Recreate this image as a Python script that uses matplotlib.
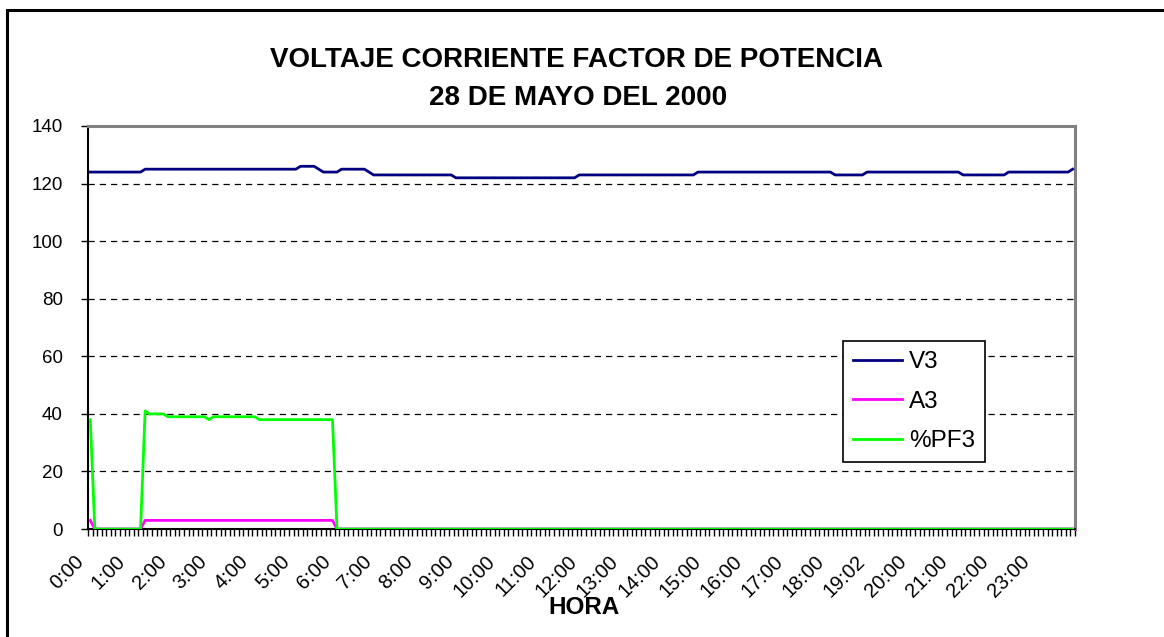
import matplotlib.pyplot as plt
from matplotlib.patches import Rectangle
from matplotlib.transforms import ScaledTranslation

plt.rcParams['font.family'] = ['Liberation Sans', 'DejaVu Sans']

# readings every ~6.7 min over the day (216 samples)
v3 = ([124] * 12 + [125] * 34 + [126] * 4 + [125] + [124] * 4 + [125] * 6 + [124]
      + [123] * 18 + [122] * 27 + [123] * 26 + [124] * 30 + [123] * 7 + [124] * 21
      + [123] * 10 + [124] * 14 + [125])
a3 = [3] + [0] * 11 + [3] * 42 + [0] * 162
pf3 = ([38] + [0] * 11 + [41] + [40] * 4 + [39] * 9 + [38] + [39] * 10 + [38] * 17
       + [0] * 162)

hour_labels = ['0:00', '1:00', '2:00', '3:00', '4:00', '5:00', '6:00', '7:00',
               '8:00', '9:00', '10:00', '11:00', '12:00', '13:00', '14:00', '15:00',
               '16:00', '17:00', '18:00', '19:02', '20:00', '21:00', '22:00', '23:00']
label_step = 9

x = list(range(len(v3)))

fig = plt.figure(figsize=(11.64, 6.37), dpi=100)
ax = fig.add_axes([0.0756, 0.1695, 0.8479, 0.6327])

# chart area frame
fig.patches.append(Rectangle((7 / 1164, -0.1), 1.2, 1.1 - 10 / 637,
                             transform=fig.transFigure, fill=False,
                             edgecolor='black', linewidth=2.2))

for v in range(20, 140, 20):
    ax.axhline(v, color='black', linestyle=(0, (5, 4)), linewidth=0.9, zorder=1)

ax.plot(x, v3, color='#000080', linewidth=2.0, label='V3', zorder=3)
ax.plot(x, a3, color='#FF00FF', linewidth=2.0, label='A3', zorder=3)
ax.plot(x, pf3, color='#00FF00', linewidth=2.0, label='%PF3', zorder=3)

ax.set_xlim(-0.5, len(v3) - 0.5)
ax.set_ylim(0, 140)
ax.set_yticks(range(0, 141, 20))
ax.tick_params(axis='y', labelsize=13.5, length=5, width=1, direction='out', pad=13)

ax.set_xticks([i * label_step for i in range(len(hour_labels))])
ax.set_xticklabels(hour_labels, rotation=45, ha='right', va='top',
                   rotation_mode='anchor', fontsize=14.5)
ax.tick_params(axis='x', which='major', length=0, pad=0)
shift = ScaledTranslation(-16 / 100, -23 / 100, fig.dpi_scale_trans)
for lab in ax.get_xticklabels():
    lab.set_transform(lab.get_transform() + shift)
ax.set_xticks([i - 0.5 for i in range(len(v3) + 1)], minor=True)
ax.tick_params(axis='x', which='minor', length=5, width=1, direction='out')

ax.spines['left'].set_color('black')
ax.spines['bottom'].set_color('black')
ax.spines['left'].set_linewidth(1.5)
ax.spines['bottom'].set_linewidth(1.5)
for s in ('top', 'right'):
    ax.spines[s].set_color('#808080')
    ax.spines[s].set_linewidth(2.2)

fig.text(576 / 1164, 1 - 60 / 637, 'VOLTAJE CORRIENTE FACTOR DE POTENCIA',
         ha='center', va='center', fontsize=20, fontweight='bold')
fig.text(578 / 1164, 1 - 98 / 637, '28 DE MAYO DEL 2000', ha='center',
         va='center', fontsize=20, fontweight='bold')
fig.text(584 / 1164, 1 - 607 / 637, 'HORA', ha='center', va='center',
         fontsize=17.5, fontweight='bold')

leg = ax.legend(loc='upper left', bbox_to_anchor=(843 / 1164, 1 - 341 / 637),
                bbox_transform=fig.transFigure, borderaxespad=0, fontsize=17.5,
                frameon=True, fancybox=False, edgecolor='black', framealpha=1,
                handlelength=2.0, handletextpad=0.3, labelspacing=0.72,
                borderpad=0.42)
leg.get_frame().set_linewidth(1.2)

fig.savefig('out.png', dpi=100)
